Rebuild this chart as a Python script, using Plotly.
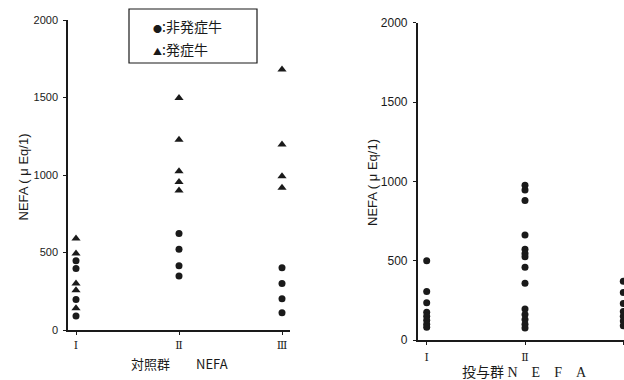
import plotly.graph_objects as go

# ---- data ----
groups = [1, 2, 3]
group_labels = ["Ⅰ", "Ⅱ", "Ⅲ"]
y_ticks = [0, 500, 1000, 1500, 2000]

# control group (対照群): non-onset cows (circles) and onset cows (triangles)
ctrl_non_onset = {
    1: [446, 397, 197, 90],
    2: [622, 521, 414, 349],
    3: [401, 300, 201, 111],
}
ctrl_onset = {
    1: [590, 493, 300, 257, 140],
    2: [1496, 1228, 1024, 955, 900],
    3: [1680, 1196, 992, 917],
}
# treated group (投与群): all circles
treat_values = {
    1: [500, 305, 235, 175, 150, 125, 100, 80],
    2: [975, 945, 880, 662, 572, 546, 525, 458, 357, 195, 160, 130, 100, 75],
    3: [370, 300, 230, 180, 150, 120, 90],
}

legend_non_onset = "非発症牛"
legend_onset = "発症牛"
y_title = "NEFA ( μ Eq/1)"
x_title_ctrl = "対照群\u3000\u3000NEFA"
x_title_treat = "投与群 N\u2003E\u2003F\u2003A"

W, H = 624, 380
INK = "#1a1a1a"


def flat(d):
    xs, ys = [], []
    for g in groups:
        for v in d[g]:
            xs.append(g)
            ys.append(v)
    return xs, ys


fig = go.Figure()

x, y = flat(ctrl_non_onset)
fig.add_trace(go.Scatter(x=x, y=y, mode="markers", name=legend_non_onset,
                         marker=dict(symbol="circle", size=7, color=INK),
                         xaxis="x", yaxis="y", showlegend=False))
x, y = flat(ctrl_onset)
fig.add_trace(go.Scatter(x=x, y=y, mode="markers", name=legend_onset,
                         marker=dict(symbol="triangle-up", size=8, color=INK),
                         xaxis="x", yaxis="y", showlegend=False))
x, y = flat(treat_values)
fig.add_trace(go.Scatter(x=x, y=y, mode="markers", name=legend_non_onset,
                         marker=dict(symbol="circle", size=7, color=INK),
                         xaxis="x2", yaxis="y2", showlegend=False))


def px(v):
    return v / W


def py(v):
    return 1 - v / H


xaxis_common = dict(
    tickmode="array", tickvals=groups, ticktext=group_labels,
    showline=True, linecolor=INK, linewidth=1.5, showgrid=False, zeroline=False,
    ticks="outside", ticklen=3, tickcolor=INK, tickwidth=1,
    tickfont=dict(family="DejaVu Serif", size=11, color=INK),
    automargin=False, fixedrange=True,
)
yaxis_common = dict(
    tickmode="array", tickvals=y_ticks, range=[0, 2000],
    showline=True, linecolor=INK, linewidth=1.5, showgrid=False, zeroline=False,
    ticks="outside", ticklen=3, tickcolor=INK, tickwidth=1,
    automargin=False, fixedrange=True,
)

fig.update_layout(
    width=W, height=H,
    margin=dict(l=0, r=0, t=0, b=0),
    paper_bgcolor="white", plot_bgcolor="white",
    showlegend=False,
    xaxis=dict(domain=[px(68), px(290)], range=[0.9223, 3.0777],
               anchor="y", ticklabelstandoff=1, **xaxis_common),
    yaxis=dict(domain=[py(330), py(20)], anchor="x", ticklabelstandoff=3,
               tickfont=dict(family="Liberation Sans", size=11, color=INK),
               **yaxis_common),
    xaxis2=dict(domain=[px(417.7), 1.0], range=[0.9084, 3.0071],
                anchor="y2", ticklabelstandoff=3, **xaxis_common),
    yaxis2=dict(domain=[py(340), py(22.7)], anchor="x2", ticklabelstandoff=3,
                tickfont=dict(family="Liberation Sans", size=12, color=INK),
                **yaxis_common),
)

cjk = "Noto Sans CJK JP"
annotations = [
    dict(text=y_title, x=px(22.5), y=py(177), textangle=-90,
         font=dict(family="Liberation Sans", size=13, color=INK)),
    dict(text=y_title, x=px(372), y=py(183), textangle=-90,
         font=dict(family="Liberation Sans", size=13, color=INK)),
    dict(text=x_title_ctrl, x=px(179.5), y=py(363),
         font=dict(family=cjk, size=13, color=INK)),
    dict(text=x_title_treat, x=px(524), y=py(372),
         font=dict(family="Liberation Serif, " + cjk, size=14, color=INK)),
    dict(text="<span style='font-size:9px'>●</span>:" + legend_non_onset,
         x=px(151), y=py(26), xanchor="left",
         font=dict(family=cjk, size=14, color=INK)),
    dict(text="<span style='font-size:9px'>▲</span>:" + legend_onset,
         x=px(151), y=py(49), xanchor="left",
         font=dict(family=cjk, size=14, color=INK)),
]
for a in annotations:
    a.setdefault("xanchor", "center")
    a.update(xref="paper", yref="paper", yanchor="middle", showarrow=False)
fig.update_layout(annotations=annotations)

fig.add_shape(type="rect", xref="paper", yref="paper",
              x0=px(129), x1=px(257), y0=py(63), y1=py(9),
              line=dict(color=INK, width=1.2), fillcolor="rgba(0,0,0,0)")

fig.write_html(
    "out.html",
    config={"displayModeBar": False},
    post_script="document.body.style.margin='0';document.body.style.overflow='hidden';",
)
